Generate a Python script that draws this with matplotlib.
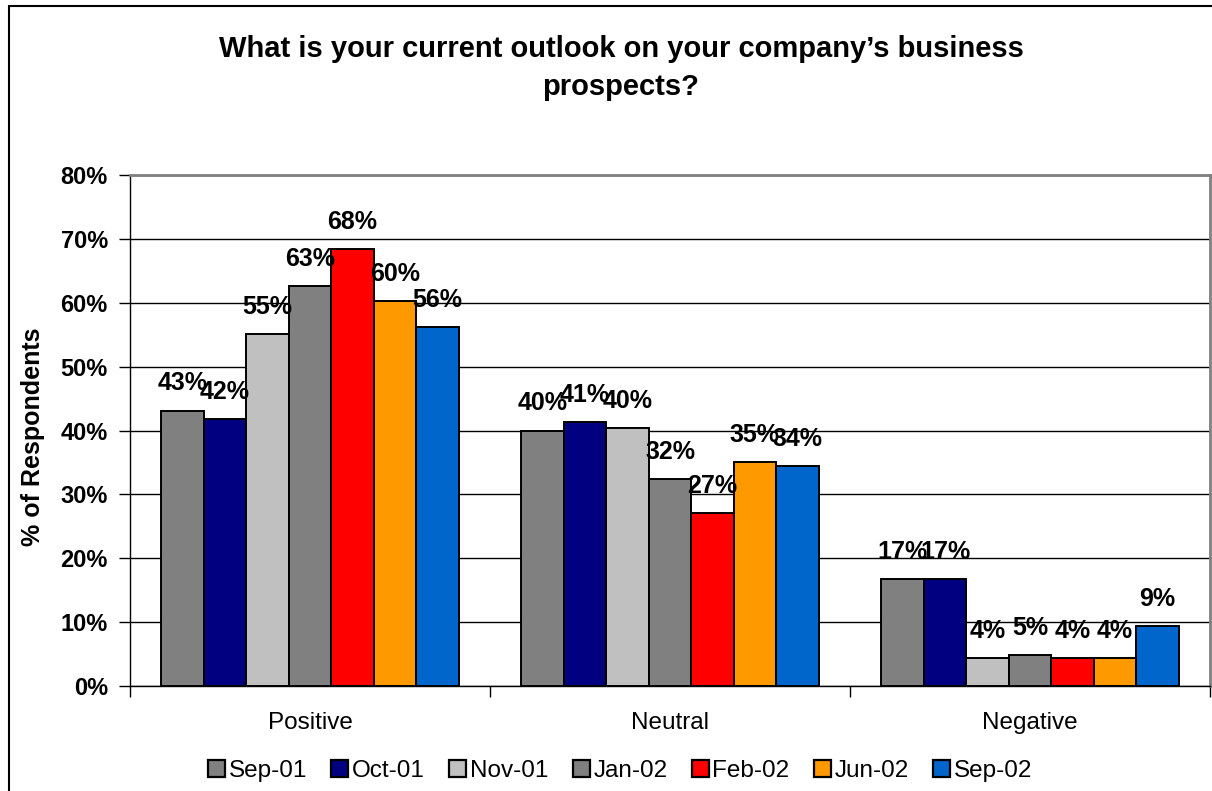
import matplotlib
matplotlib.use("Agg")
import matplotlib.pyplot as plt
import numpy as np
from matplotlib.patches import Rectangle, Patch

plt.rcParams['font.family'] = ['Liberation Sans', 'DejaVu Sans']

# =========================
# Survey data
# =========================
categories = ["Positive", "Neutral", "Negative"]
periods = ["Sep-01", "Oct-01", "Nov-01", "Jan-02", "Feb-02", "Jun-02", "Sep-02"]
colors = ["#808080", "#000080", "#C0C0C0", "#808080", "#FF0000", "#FF9900", "#0066CC"]

sep01 = [0.431, 0.400, 0.167]
oct01 = [0.418, 0.413, 0.167]
nov01 = [0.551, 0.404, 0.044]
jan02 = [0.626, 0.324, 0.048]
feb02 = [0.684, 0.271, 0.044]
jun02 = [0.603, 0.351, 0.044]
sep02 = [0.562, 0.344, 0.094]
series = [sep01, oct01, nov01, jan02, feb02, jun02, sep02]

title = "What is your current outlook on your company\u2019s business\nprospects?"

# =========================
# Figure
# =========================
W, H = 1212, 791
fig = plt.figure(figsize=(W / 100, H / 100), dpi=100)
fig.patch.set_facecolor("white")

# chart border (runs off the right and bottom edges)
fig.patches.append(Rectangle((9 / W, -0.05), 1.1, 1 - 6 / H + 0.05,
                             transform=fig.transFigure, fill=False,
                             edgecolor="black", linewidth=1.5))

ax = fig.add_axes([130 / W, (H - 686) / H, 1080 / W, 511 / H])

x = np.arange(len(categories))
n = len(series)
width = 0.826 / n

for i, (vals, c, lab) in enumerate(zip(series, colors, periods)):
    pos = x - 0.413 + width * (i + 0.5)
    bars = ax.bar(pos, vals, width, color=c, edgecolor="black",
                  linewidth=1.4, label=lab, zorder=3)
    for b, v in zip(bars, vals):
        ax.annotate(f"{v * 100:.0f}%", (b.get_x() + b.get_width() / 2, v),
                    xytext=(0, 11), textcoords="offset points",
                    ha="center", va="bottom", fontsize=18, fontweight="bold",
                    zorder=4)

ax.set_xlim(-0.5, 2.5)
ax.set_ylim(0, 0.8)

ax.set_yticks(np.arange(0, 0.81, 0.1))
ax.set_yticklabels([f"{t}%" for t in range(0, 81, 10)], fontsize=17,
                   fontweight="bold")
ax.yaxis.grid(True, color="black", linewidth=1, zorder=0)

ax.set_xticks([-0.5, 0.5, 1.5, 2.5])
ax.set_xticklabels([])
ax.set_xticks(x, minor=True)
ax.set_xticklabels(categories, minor=True, fontsize=17.5)
ax.tick_params(axis="x", which="minor", length=0, pad=19)
ax.tick_params(axis="x", which="major", length=8, width=1, direction="out")
ax.tick_params(axis="y", length=8, width=1, direction="out", pad=8)

for side in ["top", "right"]:
    ax.spines[side].set_color("#808080")
    ax.spines[side].set_linewidth(2)
for side in ["left", "bottom"]:
    ax.spines[side].set_color("black")
    ax.spines[side].set_linewidth(1)

ax.set_ylabel("% of Respondents", fontsize=18, fontweight="bold")
ax.yaxis.set_label_coords(-85 / 1080, 0.487)

fig.text(621 / W, 1 - 68 / H, title, ha="center", va="center",
         fontsize=21, fontweight="bold", linespacing=1.45)

handles = [Patch(facecolor=c, edgecolor="black", linewidth=1.6) for c in colors]
fig.legend(handles, periods, loc="center", bbox_to_anchor=(620 / W, 1 - 771 / H),
           ncol=n, frameon=False, fontsize=17.5, handlelength=0.7,
           handleheight=0.7, handletextpad=0.15, columnspacing=1.0)

fig.savefig("out.png", dpi=100)
